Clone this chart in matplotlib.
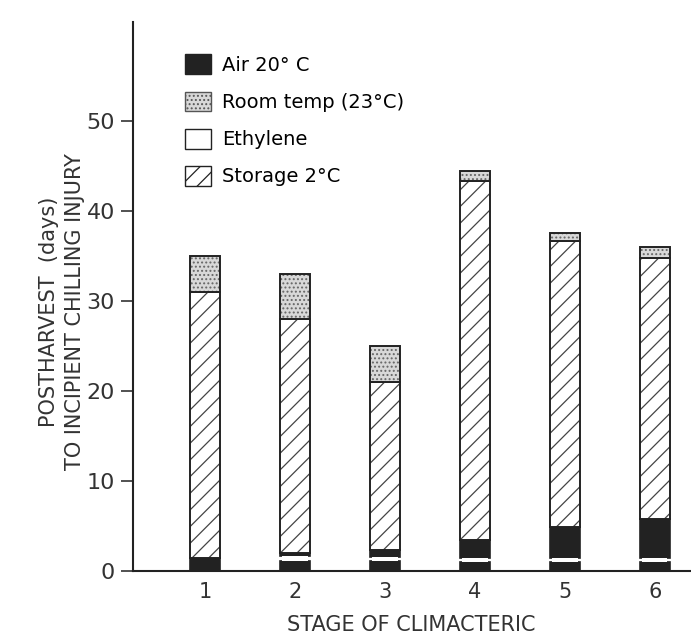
import matplotlib
matplotlib.use("Agg")
import matplotlib.pyplot as plt
import numpy as np
from matplotlib.patches import Patch

stages = ["1", "2", "3", "4", "5", "6"]
air_first = [1.5, 1.1, 1.1, 1.0, 1.0, 1.0]
ethylene = [0.0, 0.6, 0.5, 0.5, 0.5, 0.5]
air_second = [0.0, 0.3, 0.7, 2.0, 3.4, 4.3]
storage = [29.5, 26.0, 18.7, 39.8, 31.8, 29.0]
room_temp = [4.0, 5.0, 4.0, 1.2, 0.9, 1.2]
yticks = [0, 10, 20, 30, 40, 50]

plt.rcParams['font.family'] = ['DejaVu Sans']
plt.rcParams['hatch.linewidth'] = 0.9

fig = plt.figure(figsize=(6.91, 6.38), dpi=100)
ax = fig.add_axes([0.1925, 0.105, 0.806, 0.8605])

x = np.arange(1, len(stages) + 1)
w = 0.33
ink = "#222222"
dots_face = "#d8d8d8"

b0 = np.zeros(len(x))
ax.bar(x, air_first, w, bottom=b0, color=ink, edgecolor=ink, linewidth=1.2)
b1 = b0 + np.array(air_first)
ax.bar(x, ethylene, w * 0.85, bottom=b1, color="white", edgecolor=ink, linewidth=0, zorder=3)
b2 = b1 + np.array(ethylene)
ax.bar(x, air_second, w, bottom=b2, color=ink, edgecolor=ink, linewidth=1.2)
b3 = b2 + np.array(air_second)
ax.bar(x, storage, w, bottom=b3, color="white", edgecolor="#444444", hatch="//", linewidth=0)
ax.bar(x, storage, w, bottom=b3, color="none", edgecolor=ink, linewidth=1.4)
b4 = b3 + np.array(storage)
ax.bar(x, room_temp, w, bottom=b4, color=dots_face, edgecolor="#666666", hatch="....", linewidth=0)
ax.bar(x, room_temp, w, bottom=b4, color="none", edgecolor=ink, linewidth=1.4)

handles = [
    Patch(facecolor=ink, edgecolor=ink, label="Air 20° C"),
    Patch(facecolor=dots_face, edgecolor="#555555", hatch="....", label="Room temp (23°C)"),
    Patch(facecolor="white", edgecolor=ink, label="Ethylene"),
    Patch(facecolor="white", edgecolor=ink, hatch="//", label="Storage 2°C"),
]
ax.legend(handles=handles, loc="upper left", bbox_to_anchor=(0.08, 0.955), frameon=False,
          fontsize=14, handlelength=1.3, handleheight=1.2, labelspacing=0.85,
          handletextpad=0.6, borderaxespad=0)

ax.set_xlim(0.2, 6.39)
ax.set_ylim(0, 61)
ax.set_xticks(x)
ax.set_xticklabels(stages, fontsize=15, color="#333333")
ax.set_yticks(yticks)
ax.set_yticklabels([str(v) for v in yticks], fontsize=16, color="#333333")
ax.tick_params(axis="x", length=0, pad=8)
ax.tick_params(axis="y", direction="out", length=9, width=1.2, color="#333333", pad=4)
for s in ["top", "right"]:
    ax.spines[s].set_visible(False)
for s in ["left", "bottom"]:
    ax.spines[s].set_linewidth(1.5)
    ax.spines[s].set_color(ink)

ax.set_xlabel("STAGE OF CLIMACTERIC", fontsize=15, color="#333333", labelpad=9)
ax.set_ylabel("POSTHARVEST  (days)\nTO INCIPIENT CHILLING INJURY", fontsize=15,
              color="#333333", linespacing=1.4)
ax.yaxis.set_label_coords(-0.086, 0.472)

fig.savefig("out.png", dpi=100, facecolor="white")
